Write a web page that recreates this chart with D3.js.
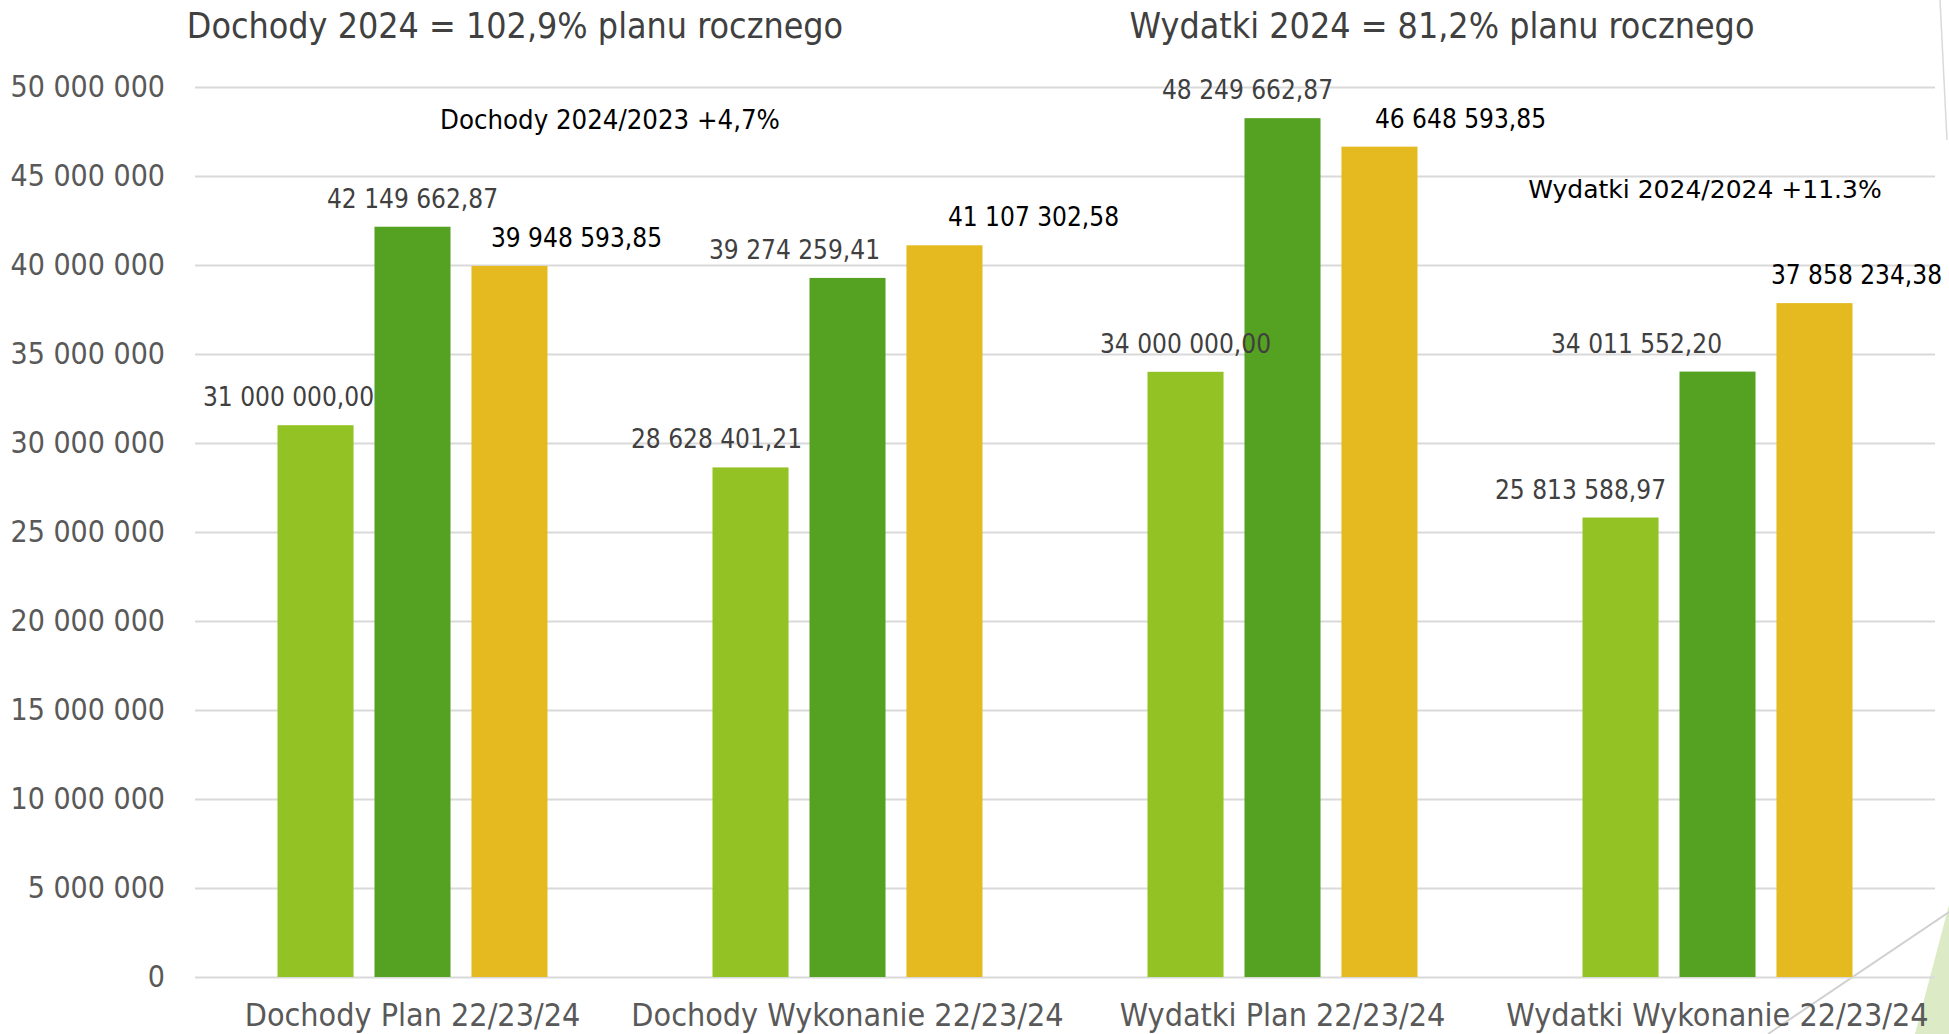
<!DOCTYPE html>
<html>
<head>
<meta charset="utf-8">
<script src="https://cdn.jsdelivr.net/npm/d3@7"></script>
<style>
  body { margin: 0; background: white; }
  svg { display: block; font-family: "DejaVu Sans Condensed", "DejaVu Sans", sans-serif; font-stretch: condensed; }
</style>
</head>
<body>
<div class="chart"></div>
<script>
    var categories = ["Dochody Plan 22/23/24", "Dochody Wykonanie 22/23/24",
                      "Wydatki Plan 22/23/24", "Wydatki Wykonanie 22/23/24"];
    var years = ["2022", "2023", "2024"];
    var values2022 = [31000000.00, 28628401.21, 34000000.00, 25813588.97];
    var values2023 = [42149662.87, 39274259.41, 48249662.87, 34011552.20];
    var values2024 = [39948593.85, 41107302.58, 46648593.85, 37858234.38];
    var yTicks = [0, 5000000, 10000000, 15000000, 20000000, 25000000,
                  30000000, 35000000, 40000000, 45000000, 50000000];
    var titles = ["Dochody 2024 = 102,9% planu rocznego", "Wydatki 2024 = 81,2% planu rocznego"];
    var notes = ["Dochody 2024/2023 +4,7%", "Wydatki 2024/2024 +11.3%"];

    // label nudges (px) as they were dragged in the original
    var labelShift = [[-27, 0, 67], [-34, -53, 89], [0, -35, 81], [-40, -81, 42]];
    var colors = ["#93c225", "#55a122", "#e5b920"];
    var labelColors = ["#404040", "#404040", "#000000"];

    var pl = d3.formatLocale({decimal: ",", thousands: " ", grouping: [3], currency: ["", ""]});
    var fmtVal = pl.format(",.2f");
    var fmtTick = pl.format(",.0f");

    var svg = d3.select(".chart")
                .append("svg")
                .attr("width", 1949)
                .attr("height", 1034)
                .style("background-color", "white");

    var x0 = d3.scaleBand().domain(categories).range([195, 1935]).padding(0);
    var x1 = d3.scaleBand().domain(years).range([82.5, 352.5]).paddingInner(0.216).paddingOuter(0);
    var y = d3.scaleLinear().domain([0, 50000000]).range([977, 87]);

    // slide decoration bottom right
    svg.append("polygon")
       .attr("points", "1949,905 1915,1034 1949,1034")
       .attr("fill", "#dcebc6");
    svg.append("line")
       .attr("x1", 1949).attr("y1", 912)
       .attr("x2", 1768).attr("y2", 1034)
       .attr("stroke", "#d0d0d0")
       .attr("stroke-width", 2);
    svg.append("line")
       .attr("x1", 1940).attr("y1", 0)
       .attr("x2", 1947).attr("y2", 140)
       .attr("stroke", "#d9d9d9")
       .attr("stroke-width", 1.5);

    // gridlines
    svg.append("g")
       .attr("transform", "translate(195,0)")
       .call(d3.axisLeft(y).tickValues(yTicks).tickSize(-1740).tickFormat(""))
       .call(function(g) {
         g.select(".domain").remove();
         g.selectAll("line").attr("stroke", "#d9d9d9").attr("stroke-width", 2);
       });

    // y tick labels
    svg.append("g")
       .attr("transform", "translate(165,0)")
       .call(d3.axisLeft(y).tickValues(yTicks).tickSize(0).tickPadding(0).tickFormat(fmtTick))
       .call(function(g) {
         g.attr("font-family", null).attr("font-size", null);
         g.select(".domain").remove();
         g.selectAll("text")
          .style("font-size", "30px")
          .style("fill", "#595959");
       });

    // category labels
    svg.append("g")
       .attr("transform", "translate(0,977)")
       .call(d3.axisBottom(x0).tickSize(0).tickPadding(26))
       .call(function(g) {
         g.attr("font-family", null).attr("font-size", null);
         g.select(".domain").remove();
         g.selectAll("text")
          .style("font-size", "32px")
          .style("fill", "#595959");
       });

    var series = [values2022, values2023, values2024];
    var rows = categories.map(function(c, i) {
      return years.map(function(yr, j) {
        return {cat: c, year: yr, j: j, i: i, value: series[j][i]};
      });
    });

    var groups = svg.selectAll(".grp")
                    .data(rows)
                    .enter().append("g")
                    .attr("class", "grp")
                    .attr("transform", function(d, i) { return "translate(" + x0(categories[i]) + ",0)"; });

    groups.selectAll("rect")
          .data(function(d) { return d; })
          .enter().append("rect")
          .attr("x", function(d) { return x1(d.year); })
          .attr("y", function(d) { return y(d.value); })
          .attr("width", x1.bandwidth())
          .attr("height", function(d) { return y(0) - y(d.value); })
          .attr("fill", function(d) { return colors[d.j]; });

    groups.selectAll(".lbl")
          .data(function(d) { return d; })
          .enter().append("text")
          .attr("class", "lbl")
          .attr("text-anchor", "middle")
          .attr("x", function(d) { return x1(d.year) + x1.bandwidth() / 2 + labelShift[d.i][d.j]; })
          .attr("y", function(d) { return y(d.value) - 19; })
          .style("font-size", "26px")
          .style("fill", function(d) { return labelColors[d.j]; })
          .text(function(d) { return fmtVal(d.value); });

    // titles
    svg.append("text")
       .attr("text-anchor", "middle")
       .attr("x", 515).attr("y", 38)
       .style("font-size", "35.5px")
       .style("fill", "#404040")
       .text(titles[0]);
    svg.append("text")
       .attr("text-anchor", "middle")
       .attr("x", 1442).attr("y", 38)
       .style("font-size", "35.5px")
       .style("fill", "#404040")
       .text(titles[1]);

    // notes
    svg.append("text")
       .attr("text-anchor", "middle")
       .attr("x", 610).attr("y", 129)
       .style("font-size", "27.3px")
       .style("fill", "#000")
       .text(notes[0]);
    svg.append("text")
       .attr("text-anchor", "middle")
       .attr("x", 1705).attr("y", 198)
       .style("font-size", "25px")
       .style("font-stretch", "normal")
       .style("font-family", "'DejaVu Sans', sans-serif")
       .style("fill", "#000")
       .text(notes[1]);
</script>
</body>
</html>
